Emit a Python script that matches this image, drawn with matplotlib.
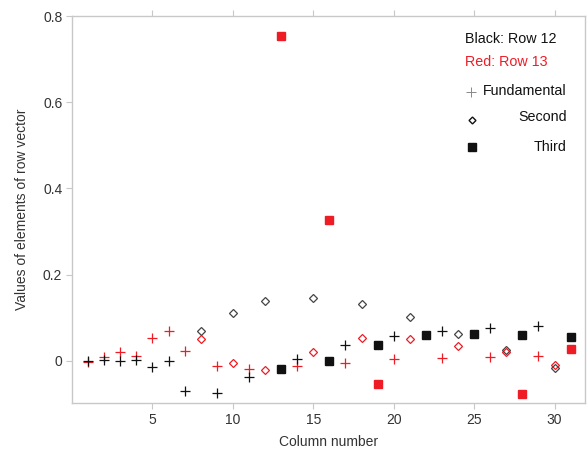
import numpy as np
import matplotlib
matplotlib.use("Agg")
import matplotlib.pyplot as plt

plt.rcParams['font.family'] = ['Liberation Sans', 'DejaVu Sans']

# Column numbers for each harmonic group
fund_cols = [1, 2, 3, 4, 5, 6, 7, 9, 11, 14, 17, 20, 23, 26, 29]
second_cols = [8, 10, 12, 15, 18, 21, 24, 27, 30]
third_cols = [13, 16, 19, 22, 25, 28, 31]

# Row 12 (black)
row12_fund = [0.0, 0.003, 0.0, 0.002, -0.015, 0.0, -0.069, -0.075, -0.038, 0.004, 0.036, 0.057, 0.070, 0.075, 0.080]
row12_second = [0.069, 0.110, 0.138, 0.145, 0.131, 0.101, 0.063, 0.026, -0.016]
row12_third = [-0.020, -0.001, 0.036, 0.059, 0.063, 0.061, 0.055]

# Row 13 (red)
row13_fund = [-0.002, 0.009, 0.020, 0.012, 0.054, 0.070, 0.023, -0.011, -0.018, -0.013, -0.005, 0.004, 0.006, 0.009, 0.012]
row13_second = [0.050, -0.004, -0.021, 0.021, 0.052, 0.050, 0.035, 0.020, -0.009]
row13_third = [0.754, 0.327, -0.053, np.nan, np.nan, -0.077, 0.027]

x_ticks = [5, 10, 15, 20, 25, 30]
y_ticks = [0, 0.2, 0.4, 0.6, 0.8]
y_tick_labels = ['0', '0.2', '0.4', '0.6', '0.8']

RED = '#ee1c25'
BLACK = '#111111'
SPINE = '#c8c8c8'
TXT = '#333333'

W, H = 587, 449
fig = plt.figure(figsize=(W / 100, H / 100), dpi=100)
ax = fig.add_axes([0.1227, 0.1024, 0.874, 0.8626])

def fx(px):
    return px / W

def fy(py):
    return 1 - py / H

# red (row 13)
ax.plot(fund_cols, row13_fund, linestyle='none', marker='+', ms=7, mew=0.9, color=RED)
ax.plot(second_cols, row13_second, linestyle='none', marker='D', ms=4, mew=0.9, mfc='none', mec=RED)
ax.plot(third_cols, row13_third, linestyle='none', marker='s', ms=5.5, color=RED)
# black (row 12)
ax.plot(fund_cols, row12_fund, linestyle='none', marker='+', ms=7, mew=0.9, color=BLACK)
ax.plot(second_cols, row12_second, linestyle='none', marker='D', ms=4, mew=0.9, mfc='none', mec='#444444')
ax.plot(third_cols, row12_third, linestyle='none', marker='s', ms=5.5, color=BLACK)

ax.set_xlim(0, 31.9)
ax.set_ylim(-0.098, 0.801)
ax.set_xticks(x_ticks)
ax.set_yticks(y_ticks)
ax.set_yticklabels(y_tick_labels)
for s in ax.spines.values():
    s.set_color(SPINE)
    s.set_linewidth(1.0)
ax.tick_params(axis='both', direction='out', length=4, width=0.8, color=SPINE,
               labelsize=10, labelcolor=TXT, top=True, labeltop=False, pad=3)

ax.set_xlabel('Column number', fontsize=10, color=TXT, labelpad=6)
ax.set_ylabel('Values of elements of row vector', fontsize=10, color=TXT, labelpad=10)

# legend-like annotations (figure pixel positions)
fig.text(fx(465), fy(39), 'Black: Row 12', fontsize=10.3, color=BLACK, va='center', ha='left')
fig.text(fx(465), fy(62), 'Red: Row 13', fontsize=10.3, color=RED, va='center', ha='left')
fig.lines.append(plt.Line2D([fx(471)], [fy(92)], transform=fig.transFigure, marker='+', ms=7,
                            mew=0.7, color='#888888'))
fig.text(fx(567), fy(91), 'Fundamental', fontsize=10.3, color=BLACK, va='center', ha='right')
fig.lines.append(plt.Line2D([fx(472)], [fy(120)], transform=fig.transFigure, marker='D', ms=3.5,
                            mew=1.0, mfc='none', mec=BLACK))
fig.text(fx(567), fy(117), 'Second', fontsize=10.3, color=BLACK, va='center', ha='right')
fig.lines.append(plt.Line2D([fx(472)], [fy(147)], transform=fig.transFigure, marker='s', ms=5.5,
                            color=BLACK))
fig.text(fx(567), fy(147), 'Third', fontsize=10.3, color=BLACK, va='center', ha='right')

fig.savefig('out.png', dpi=100)
